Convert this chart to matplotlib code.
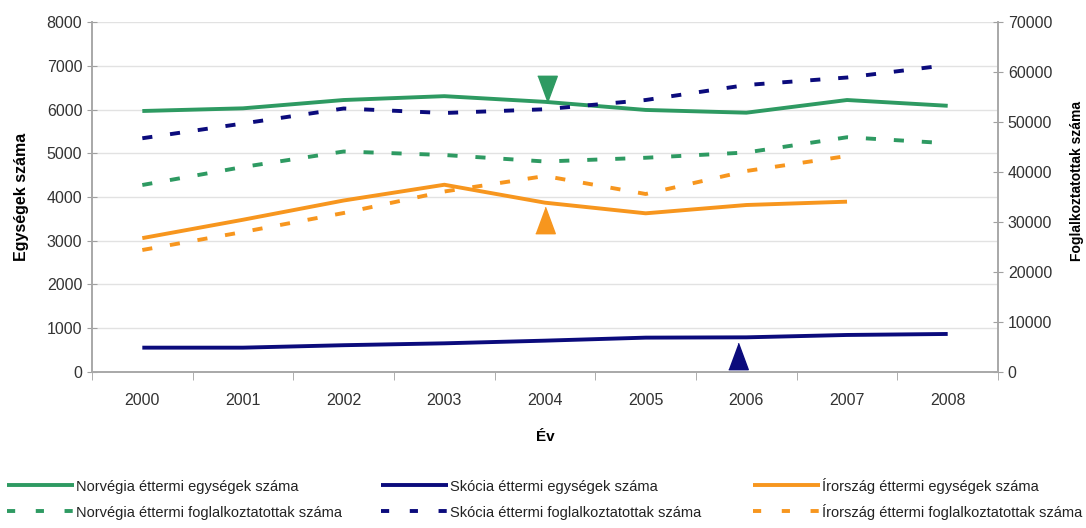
import numpy as np
import matplotlib
matplotlib.use("Agg")
from matplotlib import pyplot as plt
from matplotlib.lines import Line2D

years = [2000, 2001, 2002, 2003, 2004, 2005, 2006, 2007, 2008]

# egységek száma (bal tengely)
nor_egys = [5966, 6027, 6217, 6305, 6175, 5990, 5927, 6217, 6085]
sko_egys = [556, 556, 612, 655, 716, 785, 792, 846, 869]
ir_egys = [3060, 3480, 3920, 4280, 3870, 3627, 3817, 3893]

# foglalkoztatottak száma (jobb tengely)
nor_fogl = [37400, 41000, 44100, 43400, 42100, 42850, 43900, 46950, 45750]
sko_fogl = [46750, 49700, 52700, 51800, 52550, 54400, 57400, 58900, 61400]
ir_fogl = [24400, 28000, 31800, 36100, 39200, 35600, 40200, 43200]

zold = "#2e9a62"
kek = "#0b0b7c"
narancs = "#f7961e"

plt.rcParams["font.family"] = ["Liberation Sans", "DejaVu Sans"]

W, H = 1086, 528
fig = plt.figure(figsize=(W / 100, H / 100), dpi=100)
ax = fig.add_axes([0.0847, 0.2955, 0.8343, 0.6628])
ax2 = ax.twinx()

lw = 2.8
dash = (0, (2.6, 4.6))

l1, = ax.plot(years, nor_egys, color=zold, lw=lw, solid_capstyle="butt")
l2, = ax.plot(years, sko_egys, color=kek, lw=lw, solid_capstyle="butt")
l3, = ax.plot(years[:8], ir_egys, color=narancs, lw=lw, solid_capstyle="butt")
d1, = ax2.plot(years, nor_fogl, color=zold, lw=lw, ls=dash)
d2, = ax2.plot(years, sko_fogl, color=kek, lw=lw, ls=dash)
d3, = ax2.plot(years[:8], ir_fogl, color=narancs, lw=lw, ls=dash)

# jelölő háromszögek
tri_up = [(-0.37, -0.5), (0.37, -0.5), (0, 0.5)]
tri_dn = [(-0.37, 0.5), (0.37, 0.5), (0, -0.5)]
ax.plot([2004.02], [6470], marker=tri_dn, ms=19, color=zold, ls="none")
ax.plot([2004.0], [3480], marker=tri_up, ms=19, color=narancs, ls="none")
ax.plot([2005.92], [360], marker=tri_up, ms=19, color=kek, ls="none")

ax.set_xlim(1999.5, 2008.5)
ax.set_ylim(0, 8000)
ax2.set_ylim(0, 70000)
ax.set_yticks(np.arange(0, 8001, 1000))
ax2.set_yticks(np.arange(0, 70001, 10000))
ax.set_xticks(years)
ax.set_xticks(np.arange(1999.5, 2009, 1), minor=True)
ax.tick_params(axis="x", which="major", length=0, pad=15)
ax.tick_params(axis="x", which="minor", length=6, color="#a0a0a0", direction="out")
ax.tick_params(axis="y", length=7, direction="inout", color="#a0a0a0")
ax2.tick_params(axis="y", length=7, direction="inout", color="#a0a0a0")
for a in (ax, ax2):
    a.tick_params(labelsize=11.5, labelcolor="#333333")
    a.spines["top"].set_visible(False)
    for s in ("left", "right", "bottom"):
        a.spines[s].set_color("#a8a8a8")
        a.spines[s].set_linewidth(1.2)

ax.grid(axis="y", color="#e2e2e2", lw=1)
ax.set_axisbelow(True)

ax.set_ylabel("Egységek száma", fontsize=11.5, fontweight="bold", labelpad=13)
ax.set_xlabel("Év", fontsize=11, fontweight="bold", labelpad=16)
fig.text(1077 / W, 1 - 181 / H, "Foglalkoztatottak száma", rotation=90,
         fontsize=10, fontweight="bold", ha="center", va="center")

# jelmagyarázat három oszlopban
cols = [
    (7, (l1, d1), ("Norvégia éttermi egységek száma", "Norvégia éttermi foglalkoztatottak száma")),
    (381, (l2, d2), ("Skócia éttermi egységek száma", "Skócia éttermi foglalkoztatottak száma")),
    (753, (l3, d3), ("Írország éttermi egységek száma", "Írország éttermi foglalkoztatottak száma")),
]
rows = [485, 511]
for x, hs, labs in cols:
    for i, (h, lab, y) in enumerate(zip(hs, labs, rows)):
        yf = 1 - y / H
        ls = "-" if i == 0 else (0, (2.1, 5.3))
        fig.add_artist(Line2D([x / W, (x + 67) / W], [yf, yf], color=h.get_color(),
                              lw=lw, ls=ls, solid_capstyle="butt"))
        fig.text((x + 69) / W, yf, lab, fontsize=10.5, color="#222222",
                 ha="left", va="center_baseline")

fig.savefig("out.png", dpi=100)
